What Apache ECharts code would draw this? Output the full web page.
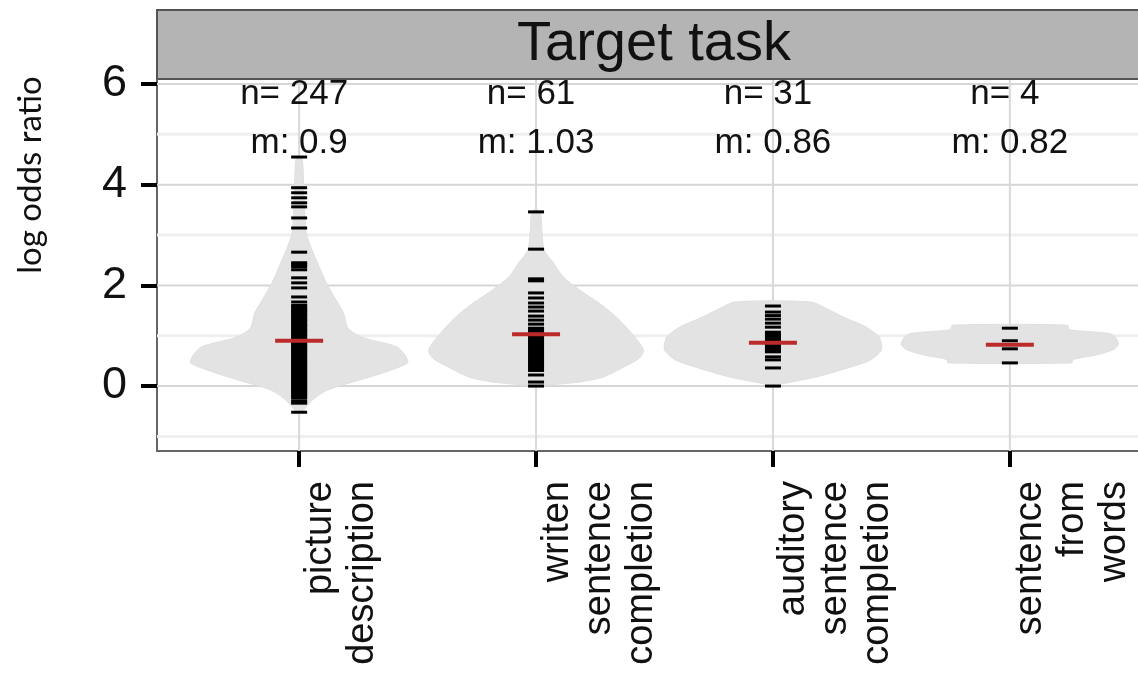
<!DOCTYPE html>
<html><head><meta charset="utf-8">
<script src="https://cdn.jsdelivr.net/npm/echarts@6/dist/echarts.min.js"></script>
<style>html,body{margin:0;padding:0;background:#fff}#c{width:1138px;height:673px}</style>
</head><body><div id="c"></div>
<script>
// ---- data ----
const categories = ['picture\ndescription', 'writen\nsentence\ncompletion', 'auditory\nsentence\ncompletion', 'sentence\nfrom\nwords'];
const counts = [247, 61, 31, 4];
const means = [0.9, 1.03, 0.86, 0.82];
const yTicks = [0, 2, 4, 6];
const yMinor = [-1, 1, 3, 5];
const xTicks = [1, 2, 3, 4];
const stripTitle = 'Target task';
const yTitle = 'log odds ratio';

// density outlines: [log odds ratio, relative density]
const bean1 = [[4.59, 0.0], [4.5, 0.03], [3.8, 0.045], [3.04, 0.065], [2.7, 0.12], [2.37, 0.185], [2.05, 0.25], [1.71, 0.34], [1.45, 0.41], [1.15, 0.45], [0.97, 0.58], [0.78, 0.9], [0.6, 0.98], [0.46, 1.0], [0.26, 0.77], [0.12, 0.56], [-0.08, 0.26], [-0.28, 0.12], [-0.48, 0.04], [-0.56, 0.0]];
const bean2 = [[3.52, 0.0], [3.46, 0.04], [3.04, 0.055], [2.7, 0.075], [2.45, 0.16], [2.17, 0.25], [1.91, 0.4], [1.65, 0.58], [1.37, 0.74], [1.05, 0.88], [0.72, 0.99], [0.55, 0.95], [0.38, 0.81], [0.18, 0.62], [0.08, 0.4], [0.0, 0.0]];
const bean3 = [[1.67, 0.35], [1.51, 0.52], [1.37, 0.65], [1.17, 0.86], [0.97, 0.98], [0.72, 1.0], [0.52, 0.9], [0.38, 0.72], [0.18, 0.4], [0.06, 0.12], [0.0, 0.0]];
const bean4 = [[1.21, 0.53], [1.12, 0.55], [1.08, 0.75], [1.04, 0.92], [0.95, 0.98], [0.82, 1.0], [0.72, 0.95], [0.62, 0.8], [0.55, 0.62], [0.52, 0.58], [0.46, 0.57]];

// individual observations (bean lines)
const rug1 = [4.55, 3.94, 3.84, 3.74, 3.64, 3.56, 3.34, 3.14, 2.66, 2.45, 2.41, 2.37, 2.31, 2.15, 2.05, 1.95, 1.77, 1.67, 1.6, 1.57, 1.53, 1.5, 1.47, 1.43, 1.4, 1.37, 1.33, 1.3, 1.27, 1.23, 1.2, 1.17, 1.13, 1.1, 1.07, 1.03, 1.0, 0.97, 0.93, 0.9, 0.87, 0.83, 0.8, 0.77, 0.73, 0.7, 0.67, 0.63, 0.6, 0.57, 0.53, 0.5, 0.47, 0.43, 0.4, 0.37, 0.33, 0.3, 0.27, 0.23, 0.2, 0.17, 0.13, 0.1, 0.07, 0.03, 0.0, -0.03, -0.07, -0.1, -0.13, -0.17, -0.2, -0.24, -0.3, -0.34, -0.52];
const rug2 = [3.46, 2.72, 2.13, 2.09, 1.85, 1.75, 1.65, 1.57, 1.49, 1.39, 1.31, 1.23, 1.15, 1.11, 1.07, 1.03, 0.99, 0.95, 0.91, 0.87, 0.83, 0.79, 0.75, 0.71, 0.67, 0.63, 0.59, 0.55, 0.51, 0.47, 0.43, 0.39, 0.35, 0.31, 0.22, 0.08, 0.0];
const rug3 = [1.59, 1.47, 1.4, 1.33, 1.25, 1.17, 1.07, 1.03, 0.99, 0.95, 0.91, 0.87, 0.83, 0.79, 0.75, 0.71, 0.68, 0.58, 0.52, 0.36, 0.0];
const rug4 = [1.15, 0.9, 0.74, 0.46];

const beans = [bean1, bean2, bean3, bean4];
const rugs = [rug1, rug2, rug3, rug4];

// ---- rendering ----
const FONT = 'Liberation Sans, Arial, Helvetica, sans-serif';
const chart = echarts.init(document.getElementById('c'), null, {renderer: 'canvas'});

function renderGrid(params, api) {
  const cs = params.coordSys;
  const kind = api.value(1);
  const v = api.value(0);
  if (kind === 2) {
    const x = api.coord([v, 0])[0];
    return {type: 'line', shape: {x1: x, y1: cs.y, x2: x, y2: cs.y + cs.height},
      style: {stroke: '#d9d9d9', lineWidth: 2}};
  }
  const y = api.coord([1, v])[1];
  return {type: 'line', shape: {x1: cs.x, y1: y, x2: cs.x + cs.width, y2: y},
    style: kind === 0 ? {stroke: '#d6d6d6', lineWidth: 2} : {stroke: '#efefef', lineWidth: 3}};
}

function renderBean(params, api) {
  const i = api.value(0);
  const xc = i + 1;
  const HALF = 0.458;
  const outline = beans[i];
  const right = outline.map(p => api.coord([xc + p[1] * HALF, p[0]]));
  const left = outline.map(p => api.coord([xc - p[1] * HALF, p[0]])).reverse();
  const children = [{type: 'polygon', shape: {points: right.concat(left), smooth: 0.25},
    style: {fill: '#e3e3e3', stroke: '#e0e0e0', lineWidth: 1}}];
  rugs[i].forEach(v => {
    const c = api.coord([xc, v]);
    children.push({type: 'line', shape: {x1: c[0] - 8, y1: c[1], x2: c[0] + 8, y2: c[1]},
      style: {stroke: '#000', lineWidth: 3}});
  });
  const m = api.coord([xc, means[i]]);
  children.push({type: 'line', shape: {x1: m[0] - 24, y1: m[1], x2: m[0] + 24, y2: m[1]},
    style: {stroke: '#bc2b2b', lineWidth: 4}});
  const pn = api.coord([xc, 5.8]);
  const pm = api.coord([xc, 4.83]);
  children.push({type: 'text', x: pn[0] - 5, y: pn[1], style: {text: 'n= ' + counts[i], font: '35px ' + FONT, fill: '#111', align: 'center', verticalAlign: 'middle'}});
  children.push({type: 'text', x: pm[0], y: pm[1], style: {text: 'm: ' + means[i], font: '35px ' + FONT, fill: '#111', align: 'center', verticalAlign: 'middle'}});
  return {type: 'group', children};
}

const gridData = yTicks.map(v => [v, 0]).concat(yMinor.map(v => [v, 1])).concat(xTicks.map(v => [v, 2]));

chart.setOption({
  animation: false,
  backgroundColor: '#fff',
  grid: {left: 157, top: 79, width: 995, height: 372, show: true, borderColor: '#666', borderWidth: 2,
    backgroundColor: '#fff', containLabel: false, outerBoundsMode: 'none'},
  xAxis: {
    type: 'value', min: 0.4, max: 4.6, position: 'bottom',
    axisLine: {show: false, onZero: false}, splitLine: {show: false},
    axisTick: {show: true, customValues: xTicks, length: 16, lineStyle: {color: '#000', width: 4}},
    axisLabel: {customValues: xTicks, formatter: v => categories[Math.round(v) - 1], rotate: 90,
      fontSize: 38, lineHeight: 42, fontFamily: FONT, color: '#111', align: 'right', verticalAlign: 'top', margin: 30}
  },
  yAxis: {
    type: 'value', min: -1.29, max: 6.1,
    axisLine: {show: false, onZero: false}, splitLine: {show: false},
    axisTick: {show: true, customValues: yTicks, length: 16, lineStyle: {color: '#000', width: 4}},
    axisLabel: {customValues: yTicks, fontSize: 45, fontFamily: FONT, color: '#111', margin: 30}
  },
  graphic: [
    {type: 'rect', shape: {x: 157, y: 10, width: 1010, height: 69}, style: {fill: '#b4b4b4', stroke: '#555', lineWidth: 2}, z: 10},
    {type: 'text', x: 654, y: 45, style: {text: stripTitle, font: '56px ' + FONT, fill: '#111', align: 'center', verticalAlign: 'middle'}, z: 11},
    {type: 'text', x: 30, y: 175, rotation: Math.PI / 2, style: {text: yTitle, font: '33px Lato, sans-serif', fill: '#111', align: 'center', verticalAlign: 'middle'}}
  ],
  series: [
    {type: 'custom', name: 'grid', renderItem: renderGrid, data: gridData, z: 1, silent: true, clip: true},
    {type: 'custom', name: 'beans', renderItem: renderBean, data: [[0], [1], [2], [3]], z: 2, silent: true, clip: false}
  ]
});
</script></body></html>
